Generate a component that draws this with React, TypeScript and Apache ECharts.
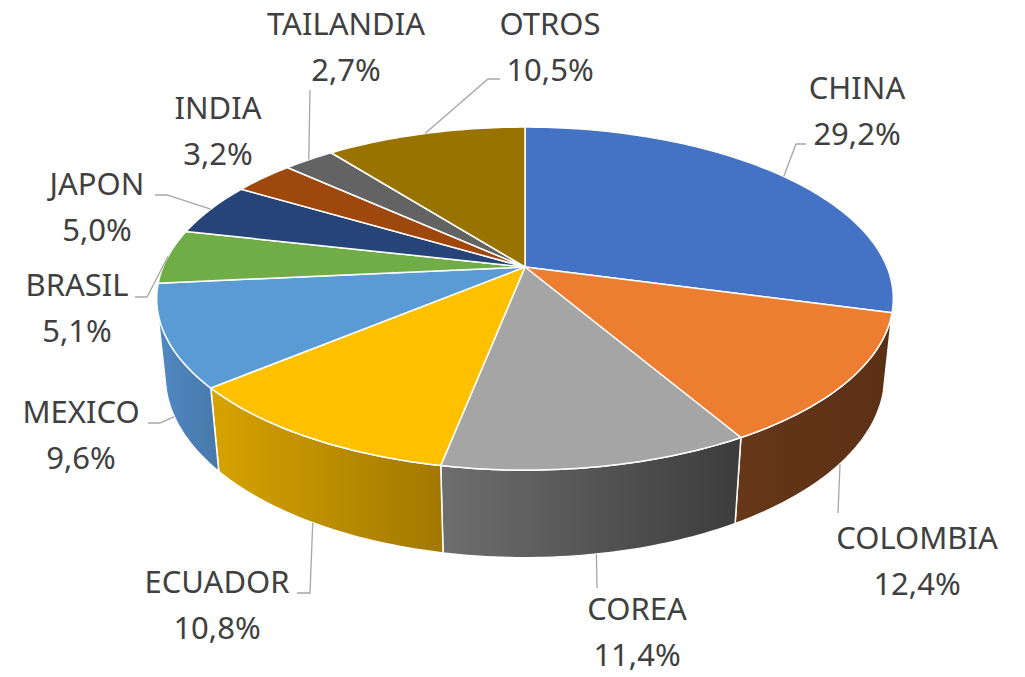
import React, { useEffect, useRef } from "react";
import * as echarts from "echarts";

// ---- data ----
const CATEGORIES = ["CHINA", "COLOMBIA", "COREA", "ECUADOR", "MEXICO", "BRASIL", "JAPON", "INDIA", "TAILANDIA", "OTROS"];
const SHARES = [29.2, 12.4, 11.4, 10.8, 9.6, 5.1, 5.0, 3.2, 2.7, 10.5];

// ---- styles ----
const TOP_COLORS = ["#4472C4", "#ED7D31", "#A5A5A5", "#FFC000", "#5B9BD5", "#70AD47", "#264478", "#9E480E", "#636363", "#997300"];
const WALL_COLORS: [string, string][] = [
  ["#3a62a8", "#2f5190"],
  ["#673719", "#5a3015"],
  ["#6e6e6e", "#3c3c3c"],
  ["#d6a300", "#a27800"],
  ["#5089c2", "#4878aa"],
  ["#5f9a3c", "#4f8232"],
  ["#203a66", "#1a3054"],
  ["#86400c", "#6e340a"],
  ["#555555", "#444444"],
  ["#826200", "#6b5100"],
];

// ---- label layout (text block centre + leader elbow points) ----
const LABEL_LAYOUT: { x: number; y: number; leader: [number, number][] }[] = [
  { x: 857, y: 110, leader: [[796, 144], [806, 144]] },
  { x: 917, y: 560, leader: [[838, 513]] },
  { x: 637, y: 631, leader: [[597, 588]] },
  { x: 217, y: 604, leader: [[310, 593], [297, 593]] },
  { x: 81, y: 434, leader: [[160, 423], [148, 423]] },
  { x: 77, y: 307, leader: [[147, 297], [135, 297]] },
  { x: 97, y: 206, leader: [[167, 195], [155, 195]] },
  { x: 218, y: 130, leader: [] },
  { x: 346, y: 46, leader: [[310, 90]] },
  { x: 550, y: 46, leader: [[488, 79], [500, 79]] },
];
const LINE_GAP = 46;

// ---- 3D view ----
const VIEW = { cx: 525, cy: 267, f: 1748.5, dist: 4.83, sinA: 0.4577, thickness: 0.243 };
const COSA = Math.sqrt(1 - VIEW.sinA * VIEW.sinA);

function project(theta: number, y: number): [number, number] {
  const X = Math.sin(theta);
  const Z = -Math.cos(theta);
  const d = VIEW.dist - (y * VIEW.sinA + Z * COSA);
  return [VIEW.cx + (VIEW.f * X) / d, VIEW.cy + (VIEW.f * (Z * VIEW.sinA - y * COSA)) / d];
}

const TOTAL = SHARES.reduce((a, b) => a + b, 0);
function sliceAngles(i: number, v: number): [number, number] {
  let before = 0;
  for (let k = 0; k < i; k++) before += SHARES[k];
  const a0 = (before / TOTAL) * Math.PI * 2;
  return [a0, a0 + (v / TOTAL) * Math.PI * 2];
}

function arcPoints(a: number, b: number, y: number): [number, number][] {
  const n = Math.max(2, Math.ceil(((b - a) * 180) / Math.PI));
  const pts: [number, number][] = [];
  for (let s = 0; s <= n; s++) pts.push(project(a + ((b - a) * s) / n, y));
  return pts;
}

const Z_VISIBLE = 1 / (VIEW.dist * COSA);
const FRONT_MIN = Math.acos(-Z_VISIBLE);
const FRONT_MAX = Math.PI * 2 - FRONT_MIN;

const seriesData = CATEGORIES.map((name, i) => ({ name, value: SHARES[i] }));

const textStyle = {
  fill: "#404040",
  fontFamily: "Noto Sans",
  fontSize: 31,
  lineHeight: 32,
  align: "center",
  verticalAlign: "middle",
};

export default function App() {
  const ref = useRef<HTMLDivElement>(null);
  useEffect(() => {
    if (!ref.current) return;
    const chart = echarts.init(ref.current, undefined, { renderer: "svg" });
    chart.setOption({
      animation: false,
      backgroundColor: "#ffffff",
      series: [
        {
          type: "custom",
          name: "walls",
          coordinateSystem: "none",
          silent: true,
          z: 1,
          data: seriesData,
          renderItem: (params: any, api: any) => {
            const i = params.dataIndex;
            const [a0, a1] = sliceAngles(i, api.value(0));
            const a = Math.max(a0, FRONT_MIN);
            const b = Math.min(a1, FRONT_MAX);
            if (a >= b) return { type: "group", children: [] };
            const top = arcPoints(a, b, 0);
            const bottom = arcPoints(a, b, -VIEW.thickness).reverse();
            return {
              type: "polygon",
              shape: { points: top.concat(bottom) },
              style: {
                fill: new echarts.graphic.LinearGradient(0, 0, 1, 0, [
                  { offset: 0, color: WALL_COLORS[i][0] },
                  { offset: 1, color: WALL_COLORS[i][1] },
                ]),
                stroke: "#ffffff",
                lineWidth: 1.5,
                lineJoin: "round",
              },
            };
          },
        },
        {
          type: "custom",
          name: "tops",
          coordinateSystem: "none",
          silent: true,
          z: 2,
          data: seriesData,
          renderItem: (params: any, api: any) => {
            const i = params.dataIndex;
            const [a0, a1] = sliceAngles(i, api.value(0));
            const pts: [number, number][] = [[VIEW.cx, VIEW.cy] as [number, number]].concat(arcPoints(a0, a1, 0));
            return {
              type: "polygon",
              shape: { points: pts },
              style: { fill: TOP_COLORS[i], stroke: "#ffffff", lineWidth: 1.5, lineJoin: "round" },
            };
          },
        },
        {
          type: "custom",
          name: "labels",
          coordinateSystem: "none",
          silent: true,
          z: 3,
          data: seriesData,
          renderItem: (params: any, api: any) => {
            const i = params.dataIndex;
            const v = api.value(0);
            const [a0, a1] = sliceAngles(i, v);
            const mid = (a0 + a1) / 2;
            const front = -Math.cos(mid) > 0;
            const anchor = project(mid, front ? -VIEW.thickness : 0);
            const lay = LABEL_LAYOUT[i];
            const children: any[] = [];
            if (lay.leader.length) {
              children.push({
                type: "polyline",
                shape: { points: [anchor, ...lay.leader] },
                style: { stroke: "#a6a6a6", lineWidth: 1.3, fill: null },
              });
            }
            children.push({
              type: "text",
              x: lay.x,
              y: lay.y - LINE_GAP / 2,
              style: { ...textStyle, text: CATEGORIES[i] },
            });
            children.push({
              type: "text",
              x: lay.x,
              y: lay.y + LINE_GAP / 2,
              style: { ...textStyle, text: v.toFixed(1).replace(".", ",") + "%" },
            });
            return { type: "group", children };
          },
        },
      ],
    });
    return () => chart.dispose();
  }, []);
  return (
    <div
      ref={ref}
      style={{ position: "fixed", left: 0, top: 0, width: 1025, height: 677, background: "#fff" }}
    />
  );
}
